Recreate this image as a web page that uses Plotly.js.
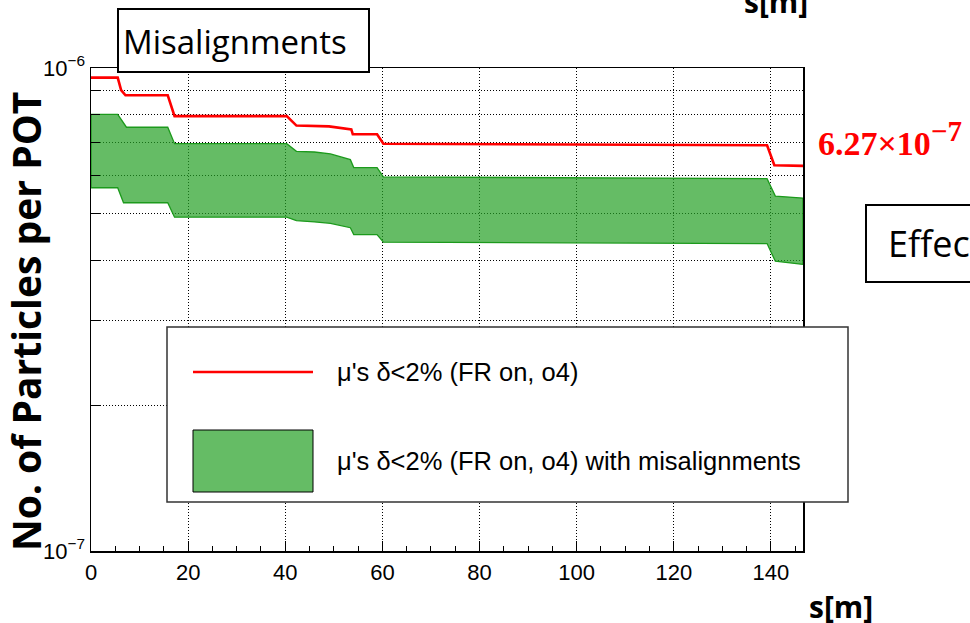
<!DOCTYPE html>
<html>
<head>
<meta charset="utf-8">
<script src="https://cdn.plot.ly/plotly-3.0.1.min.js"></script>
<style>
  html, body { margin: 0; padding: 0; background: #fff; overflow: hidden; }
  #chart { width: 970px; height: 623px; }
</style>
</head>
<body>
<div id="chart"></div>
<script>
// Muon flux (delta < 2%, FR on, 4th order) along the beamline, s in metres
var sNominal = [0, 5.5, 6.2, 7.1, 15.8, 17.2, 40.3, 42.3, 49.0, 52.5, 53.6, 53.9, 58.9, 60.2, 100, 139.2, 140.7, 146.6];
var fluxNominal = [9.55e-7, 9.55e-7, 9.0e-7, 8.78e-7, 8.78e-7, 7.95e-7, 7.95e-7, 7.60e-7, 7.57e-7, 7.50e-7, 7.46e-7, 7.29e-7, 7.29e-7, 6.97e-7, 6.95e-7, 6.92e-7, 6.29e-7, 6.27e-7];

// Spread of the flux over the misalignment seeds: upper and lower envelope
var sUpper = [0, 5.5, 7.3, 15.8, 17.2, 40.3, 42.3, 46, 49.3, 53.4, 54.1, 58.9, 60.2, 100, 139.2, 140.9, 146.6];
var fluxUpper = [8.02e-7, 8.02e-7, 7.54e-7, 7.54e-7, 6.97e-7, 6.97e-7, 6.72e-7, 6.70e-7, 6.64e-7, 6.46e-7, 6.22e-7, 6.22e-7, 5.95e-7, 5.93e-7, 5.90e-7, 5.43e-7, 5.38e-7];
var sLower = [0, 5.5, 6.7, 15.8, 17.2, 40.3, 42.3, 46, 49.3, 53.4, 54.1, 58.9, 60.2, 100, 139.2, 140.9, 146.6];
var fluxLower = [5.65e-7, 5.65e-7, 5.26e-7, 5.26e-7, 4.91e-7, 4.91e-7, 4.83e-7, 4.80e-7, 4.77e-7, 4.67e-7, 4.52e-7, 4.52e-7, 4.36e-7, 4.34e-7, 4.33e-7, 3.98e-7, 3.92e-7];

var seriesNames = ["\u03bc's \u03b4<2% (FR on, o4)", "\u03bc's \u03b4<2% (FR on, o4) with misalignments"];

var xTickVals = [0, 20, 40, 60, 80, 100, 120, 140];
var yTickVals = [1e-7, 1e-6];
var yTickText = ['10<sup>\u22127</sup>', '10<sup>\u22126</sup>'];
var yMinorVals = [2e-7, 3e-7, 4e-7, 5e-7, 6e-7, 7e-7, 8e-7, 9e-7];

// value at the end of the line, quoted next to it
var finalFlux = fluxNominal[fluxNominal.length - 1];
var finalMantissa = (finalFlux / 1e-7).toFixed(2);

var bandColor = 'rgba(36,160,36,0.70)';

// closed polygon: upper envelope left->right, lower envelope right->left
var bandX = sUpper.concat(sLower.slice().reverse());
var bandY = fluxUpper.concat(fluxLower.slice().reverse());
bandX.push(sUpper[0]);
bandY.push(fluxUpper[0]);

var traces = [
  {
    type: 'scatter', mode: 'lines', name: seriesNames[1],
    x: bandX, y: bandY, fill: 'toself', fillcolor: bandColor,
    line: { color: '#1c9a1c', width: 1.3 }, hoverinfo: 'skip'
  },
  {
    type: 'scatter', mode: 'lines', name: seriesNames[0],
    x: sNominal, y: fluxNominal,
    line: { color: '#ff0000', width: 2.6 }
  }
];

// plot frame in pixels
var L = 91, R = 803, T = 68, B = 551;
function px(x) { return (x - L) / (R - L); }
function py(y) { return (B - y) / (B - T); }

var gridDash = '1px,2px';
var helv = 'Liberation Sans, Arial, sans-serif';

var layout = {
  width: 970, height: 623,
  margin: { l: L, r: 970 - R, t: T, b: 623 - B, pad: 0 },
  paper_bgcolor: '#fff', plot_bgcolor: '#fff',
  font: { family: helv, size: 22, color: '#000' },
  showlegend: false,
  xaxis: {
    range: [0, 146.6], tickmode: 'array', tickvals: xTickVals,
    ticks: 'inside', ticklen: 10, tickwidth: 1, tickcolor: '#000',
    showline: true, linecolor: '#000', linewidth: 1.5, mirror: true,
    showgrid: true, gridcolor: '#000', gridwidth: 1, griddash: gridDash,
    zeroline: false, ticklabelstandoff: 1,
    tickfont: { family: helv, size: 22, color: '#000' },
    minor: { dtick: 5, ticks: 'inside', ticklen: 5, tickwidth: 1, tickcolor: '#000', showgrid: false }
  },
  yaxis: {
    type: 'log', range: [-7, -6], tickmode: 'array',
    tickvals: yTickVals, ticktext: yTickText,
    ticks: 'inside', ticklen: 10, tickwidth: 1, tickcolor: '#000',
    showline: true, linecolor: '#000', linewidth: 1.5, mirror: true,
    showgrid: false, zeroline: false,
    tickfont: { family: helv, size: 22, color: '#000' },
    minor: {
      tickmode: 'array', tickvals: yMinorVals,
      ticks: 'inside', ticklen: 9, tickwidth: 1, tickcolor: '#000',
      showgrid: true, gridcolor: '#000', gridwidth: 1, griddash: gridDash
    }
  },
  shapes: [
    // legend panel
    { type: 'rect', xref: 'paper', yref: 'paper', layer: 'above',
      x0: px(167), x1: px(848), y0: py(502), y1: py(327),
      fillcolor: '#fff', line: { color: '#333', width: 1.5 } },
    { type: 'line', xref: 'paper', yref: 'paper', layer: 'above',
      x0: px(193), x1: px(313), y0: py(372), y1: py(372),
      line: { color: '#ff0000', width: 2.6 } },
    { type: 'rect', xref: 'paper', yref: 'paper', layer: 'above',
      x0: px(193), x1: px(313), y0: py(492), y1: py(430),
      fillcolor: bandColor, line: { color: '#000', width: 1 } },
    // heading box
    { type: 'rect', xref: 'paper', yref: 'paper', layer: 'above',
      x0: px(118), x1: px(369), y0: py(72), y1: py(9),
      fillcolor: '#fff', line: { color: '#000', width: 2 } },
    // side box
    { type: 'rect', xref: 'paper', yref: 'paper', layer: 'above',
      x0: px(866), x1: px(1010), y0: py(282), y1: py(205),
      fillcolor: '#fff', line: { color: '#000', width: 2 } }
  ],
  annotations: [
    { xref: 'paper', yref: 'paper', x: px(335), y: py(372), xanchor: 'left', yanchor: 'middle',
      text: seriesNames[0], showarrow: false,
      font: { family: helv, size: 25.5, color: '#000' } },
    { xref: 'paper', yref: 'paper', x: px(335), y: py(461), xanchor: 'left', yanchor: 'middle',
      text: seriesNames[1], showarrow: false,
      font: { family: helv, size: 25.5, color: '#000' } },
    { xref: 'paper', yref: 'paper', x: px(235), y: py(41), xanchor: 'center', yanchor: 'middle',
      text: 'Misalignments', showarrow: false,
      font: { family: 'Open Sans, sans-serif', size: 33, color: '#000' } },
    { xref: 'paper', yref: 'paper', x: px(886), y: py(243), xanchor: 'left', yanchor: 'middle',
      text: 'Effect', showarrow: false,
      font: { family: 'Open Sans, sans-serif', size: 36, color: '#000' } },
    { xref: 'paper', yref: 'paper', x: px(25), y: py(322), xanchor: 'center', yanchor: 'middle',
      text: 'No. of Particles per POT', textangle: -90, showarrow: false,
      font: { family: 'Open Sans, sans-serif', size: 39, color: '#000', weight: 'bold' } },
    { xref: 'paper', yref: 'paper', x: px(841), y: py(606), xanchor: 'center', yanchor: 'middle',
      text: 's[m]', showarrow: false,
      font: { family: 'Open Sans, sans-serif', size: 30, color: '#000', weight: 'bold' } },
    { xref: 'paper', yref: 'paper', x: px(776), y: py(2), xanchor: 'center', yanchor: 'middle',
      text: 's[m]', showarrow: false,
      font: { family: 'Open Sans, sans-serif', size: 30, color: '#000', weight: 'bold' } },
    { xref: 'paper', yref: 'paper', x: px(816), y: py(138), xanchor: 'left', yanchor: 'middle',
      text: finalMantissa + '\u00d710<sup><span style="font-size:29px">\u22127</span></sup>', showarrow: false,
      font: { family: 'Liberation Serif, serif', size: 34, color: '#ff0000', weight: 'bold' } }
  ]
};

Plotly.newPlot('chart', traces, layout, { displayModeBar: false, staticPlot: true });
</script>
</body>
</html>
